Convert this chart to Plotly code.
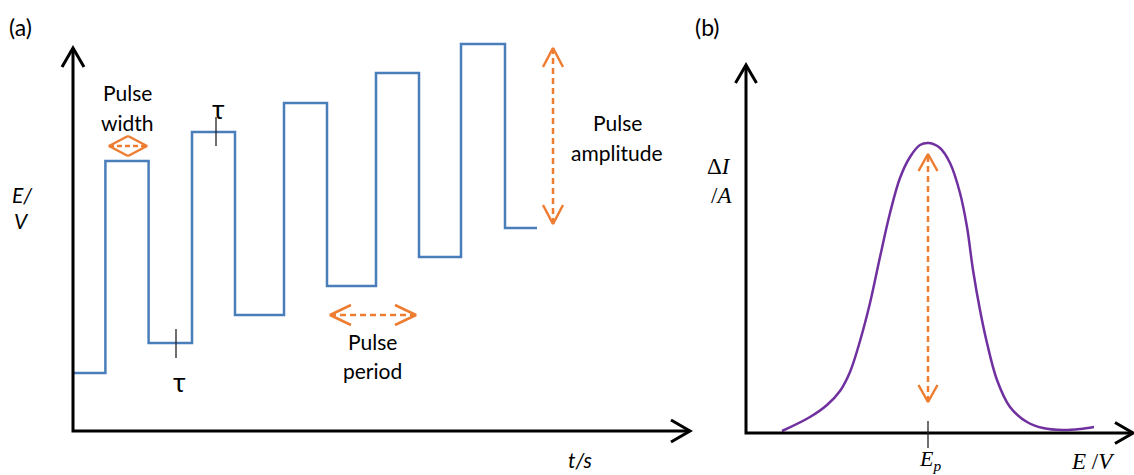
import plotly.graph_objects as go

# ---------------- data ----------------
# Panel (a): differential pulse waveform (arbitrary units)
t_edges = [0, 3.24, 7.56, 11.9, 16.2, 21.1, 25.4, 30.3, 34.6, 38.8, 43.2, 46.4]
E_levels = [5.8, 27.0, 8.8, 29.9, 11.6, 32.8, 14.5, 35.8, 17.4, 38.7, 20.3]

# Panel (b): differential current vs potential (arbitrary units)
E_scan = [3.6, 6.4, 8.1, 9.4, 10.4, 11.4, 12.4, 13.4, 14.4, 15.4, 16.4, 17.4, 18.3,
          19.4, 20.4, 21.4, 22.1, 22.7, 23.4, 24.1, 25.1, 26.4, 28.1, 29.7, 31.7, 33.4, 34.8]
dI = [0.2, 1.6, 2.8, 4.2, 6.1, 9.2, 13.0, 17.6, 22.0, 25.5, 27.6, 28.8, 29.0,
      28.5, 27.0, 24.0, 20.6, 16.3, 12.3, 9.0, 5.3, 2.6, 1.1, 0.5, 0.3, 0.4, 0.6]
E_peak = 18.2

# annotation geometry (data units)
a_t_end, a_E_top = 61.7, 38.3
b_E_end, b_I_top = 38.7, 36.8
pw_span, pw_level = (3.6, 7.4), 28.5
pp_span, pp_level = (25.7, 34.3), 11.6
amp_t, amp_span = 48.0, (20.7, 38.3)
tau_top = (14.3, 28.5, 31.4)
tau_bot = (10.3, 7.3, 10.2)
peak_arrow = (3.1, 27.9)

BLUE = "#4a7ebb"
PURPLE = "#7030a0"
ORANGE = "#ed7d31"
BLACK = "#000000"
SANS = "Lato, Open Sans, sans-serif"
SERIF = "Liberation Serif, DejaVu Serif, serif"

fig = go.Figure()


def seg(xs, ys, ax, color, width, dash="solid", shape="linear"):
    xa, ya = ("x", "y") if ax == 1 else ("x2", "y2")
    fig.add_trace(go.Scatter(x=xs, y=ys, mode="lines", xaxis=xa, yaxis=ya,
                             line=dict(color=color, width=width, dash=dash, shape=shape),
                             hoverinfo="skip", showlegend=False, cliponaxis=False))


def head(tx, ty, d, ax, color, width, length=1.9, half=1.05):
    # d: direction the chevron points to
    if d == "r":
        xs, ys = [tx - length, tx, tx - length], [ty + half, ty, ty - half]
    elif d == "l":
        xs, ys = [tx + length, tx, tx + length], [ty + half, ty, ty - half]
    elif d == "u":
        xs, ys = [tx - half, tx, tx + half], [ty - length, ty, ty - length]
    else:
        xs, ys = [tx - half, tx, tx + half], [ty + length, ty, ty + length]
    seg(xs, ys, ax, color, width)


# ---------- panel (a) ----------
seg(t_edges, E_levels + [E_levels[-1]], 1, BLUE, 2.5, shape="hv")

# axes
seg([0, 0, a_t_end], [a_E_top, 0, 0], 1, BLACK, 3)
head(0, a_E_top, "u", 1, BLACK, 3, 1.9, 1.1)
head(a_t_end, 0, "r", 1, BLACK, 3, 1.9, 1.1)

# pulse width arrow
seg(list(pw_span), [pw_level, pw_level], 1, ORANGE, 2.5, "5px,3px")
mid = (pw_span[1] - pw_span[0]) / 2
head(pw_span[0], pw_level, "l", 1, ORANGE, 2.5, mid, 1.0)
head(pw_span[1], pw_level, "r", 1, ORANGE, 2.5, mid, 1.0)

# pulse period arrow
seg(list(pp_span), [pp_level, pp_level], 1, ORANGE, 2.5, "6px,4px")
head(pp_span[0], pp_level, "l", 1, ORANGE, 2.5, 2.1, 1.0)
head(pp_span[1], pp_level, "r", 1, ORANGE, 2.5, 2.1, 1.0)

# pulse amplitude arrow
seg([amp_t, amp_t], list(amp_span), 1, ORANGE, 2.5, "6px,4px")
head(amp_t, amp_span[1], "u", 1, ORANGE, 2.5, 1.9, 1.0)
head(amp_t, amp_span[0], "d", 1, ORANGE, 2.5, 1.9, 1.0)

# tau ticks
seg([tau_top[0]] * 2, [tau_top[1], tau_top[2]], 1, "#222222", 1.3)
seg([tau_bot[0]] * 2, [tau_bot[1], tau_bot[2]], 1, "#222222", 1.3)

# ---------- panel (b) ----------
seg(E_scan, dI, 2, PURPLE, 2.5, shape="spline")
seg([0, 0, b_E_end], [b_I_top, 0, 0], 2, BLACK, 3)
head(0, b_I_top, "u", 2, BLACK, 3, 1.8, 1.05)
head(b_E_end, 0, "r", 2, BLACK, 3, 1.8, 1.05)
seg([E_peak, E_peak], [1.2, -1.5], 2, "#222222", 1.3)
seg([E_peak, E_peak], list(peak_arrow), 2, ORANGE, 2.5, "6px,4px")
head(E_peak, peak_arrow[1], "u", 2, ORANGE, 2.5, 1.7, 0.95)
head(E_peak, peak_arrow[0], "d", 2, ORANGE, 2.5, 1.7, 0.95)


# ---------- text ----------
def txt(text, x, y, ax, size=21, family=SANS, xanchor="center"):
    if ax == 0:
        xr, yr = "paper", "paper"
    elif ax == 1:
        xr, yr = "x", "y"
    else:
        xr, yr = "x2", "y2"
    fig.add_annotation(text=text, x=x, y=y, xref=xr, yref=yr, showarrow=False,
                       xanchor=xanchor, yanchor="middle",
                       font=dict(family=family, size=size, color=BLACK))


txt("(a)", 20 / 1134, 1 - 27 / 475, 0, 23)
txt("(b)", 707 / 1134, 1 - 27 / 475, 0, 23)
txt("Pulse", 5.4, 33.9, 1)
txt("width", 5.4, 30.9, 1)
txt("Pulse", 29.9, 9.0, 1)
txt("period", 29.9, 6.1, 1)
txt("Pulse", 54.4, 30.9, 1)
txt("amplitude", 54.4, 27.9, 1)
txt("τ", 14.5, 32.3, 1, 27)
txt("τ", 10.6, 5.0, 1, 27)
txt("<i>E/</i>", -6.3, 23.7, 1, 21, SANS, "left")
txt("<i>V</i>", -6.1, 21.1, 1, 21, SANS, "left")
txt("<i>t/s</i>", 50.7, -2.8, 1, 21)

txt("Δ<i>I</i>", -2.7, 26.7, 2, 23, SERIF)
txt("/<i>A</i>", -2.5, 23.8, 2, 23, SERIF)
txt("<i>E</i><sub><i>p</i></sub>", 18.4, -2.7, 2, 22, SERIF)
txt("<i>E</i> /<i>V</i>", 34.7, -2.8, 2, 23, SERIF)

split = 700 / 1134
fig.update_layout(
    width=1134, height=475,
    margin=dict(l=0, r=0, t=0, b=0),
    paper_bgcolor="white", plot_bgcolor="white",
    showlegend=False,
    xaxis=dict(domain=[0, split], range=[-7.3, 62.7], visible=False),
    yaxis=dict(domain=[0, 1], range=[-4.4, 43.1], visible=False),
    xaxis2=dict(domain=[split, 1], range=[-4.6, 38.8], visible=False),
    yaxis2=dict(domain=[0, 1], range=[-4.2, 43.3], visible=False, anchor="x2"),
)

fig.write_html("out.html", config={"displayModeBar": False},
               post_script="document.body.style.margin='0';")
